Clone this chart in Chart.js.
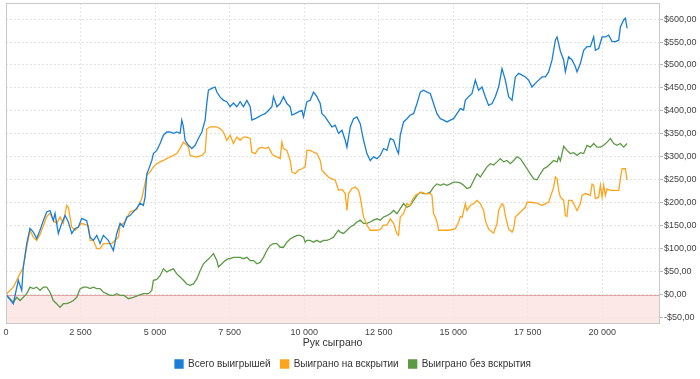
<!DOCTYPE html>
<html>
<head>
<meta charset="utf-8">
<script src="https://cdn.jsdelivr.net/npm/chart.js@4/dist/chart.umd.min.js"></script>
<style>
  html, body { margin: 0; padding: 0; background: #fff; }
</style>
</head>
<body>
<canvas id="graph" width="700" height="379"></canvas>
<script>
// --- данные --- //
const seriesNames = ['Всего выигрышей', 'Выиграно на вскрытии', 'Выиграно без вскрытия'];
const handTicks = [0, 2500, 5000, 7500, 10000, 12500, 15000, 17500, 20000];
const moneyTicks = [-50, 0, 50, 100, 150, 200, 250, 300, 350, 400, 450, 500, 550, 600];

// Всего выигрышей
const totalHands = [0,245,413,527,581,695,805,916,1030,1141,1252,1366,1477,1587,1644,1755,1869,1980,2091,2205,2316,2426,2540,2708,2819,2930,3044,3155,3265,3433,3601,3715,3826,3937,4051,4161,4272,4386,4497,4608,4665,4722,4776,4890,4943,5057,5168,5279,5393,5504,5614,5729,5839,5897,5950,6007,6118,6232,6343,6453,6568,6678,6735,6789,6903,7014,7071,7182,7293,7407,7517,7628,7742,7853,7964,8078,8189,8246,8356,8467,8581,8692,8803,8917,8970,9084,9195,9306,9420,9531,9588,9699,9809,9924,9977,10091,10202,10313,10427,10538,10595,10706,10816,10930,11041,11152,11266,11377,11434,11545,11655,11769,11880,11991,12105,12216,12326,12441,12551,12662,12776,12887,12998,13112,13165,13222,13333,13447,13558,13669,13783,13894,14004,14119,14229,14340,14454,14565,14676,14790,14901,15011,15125,15236,15347,15404,15515,15629,15740,15850,15964,16075,16186,16300,16411,16521,16635,16746,16857,16971,17082,17193,17307,17418,17528,17642,17753,17864,17978,18089,18199,18313,18424,18481,18592,18703,18759,18870,18984,19095,19152,19263,19373,19487,19598,19709,19766,19877,19991,20102,20213,20327,20438,20549,20605,20716,20773,20830];
const totalWon = [0,-20,31,9,60,111,144,136,122,140,161,180,183,161,177,133,155,172,158,133,144,147,166,161,125,118,129,111,129,118,96,133,155,147,169,172,180,188,199,194,212,263,271,292,307,314,329,347,354,354,351,354,351,380,365,336,325,318,325,340,354,380,417,445,449,452,441,430,423,420,409,417,409,420,409,423,409,380,383,387,391,394,401,409,431,409,416,431,416,409,391,394,398,401,387,420,423,441,431,416,394,387,376,365,369,351,358,336,321,365,383,387,372,336,307,292,300,296,303,318,314,340,336,314,307,347,376,383,391,394,416,441,445,441,438,416,394,383,380,376,380,383,394,405,402,423,431,438,467,445,452,431,412,416,431,452,492,467,431,423,474,482,478,474,467,452,460,467,474,474,485,511,554,561,530,511,485,518,511,496,485,503,532,540,540,561,532,536,561,561,565,551,551,554,583,598,602,580];

// Выиграно на вскрытии
const showdownHands = [0,245,413,581,695,805,916,1030,1141,1252,1366,1477,1587,1700,1812,1923,2035,2091,2205,2316,2426,2540,2763,2819,2930,3044,3155,3265,3433,3547,3770,3826,3990,4161,4386,4554,4722,4833,4943,5057,5168,5279,5393,5504,5614,5729,5839,5950,6007,6118,6175,6343,6400,6568,6678,6735,6846,7071,7182,7293,7407,7517,7628,7742,7853,7964,8078,8189,8246,8356,8467,8581,8692,8803,8917,8970,9084,9195,9252,9306,9420,9531,9588,9699,9809,9924,10034,10091,10202,10313,10427,10538,10595,10706,10816,10930,11041,11152,11266,11377,11434,11488,11601,11712,11823,11880,11937,11991,12105,12216,12326,12441,12551,12662,12776,12887,12998,13112,13165,13222,13333,13447,13558,13615,13727,13838,13950,14061,14229,14286,14340,14397,14454,14510,14621,14733,14844,15068,15181,15236,15300,15404,15460,15570,15683,15797,15909,16019,16075,16186,16300,16354,16468,16521,16635,16690,16746,16857,16971,17025,17082,17193,17307,17418,17475,17585,17810,17978,18089,18199,18367,18424,18481,18535,18592,18703,18759,18814,18870,18984,19095,19152,19263,19319,19430,19598,19655,19710,19766,19877,19934,19990,20046,20102,20160,20270,20549,20605,20662,20773,20830];
const showdownWon = [0,16,38,60,103,140,125,118,131,150,170,177,161,155,169,155,194,190,147,140,147,155,150,118,118,100,100,111,111,111,125,150,158,180,185,209,260,267,278,285,289,292,296,300,303,307,318,332,329,321,303,300,300,303,310,361,365,365,361,354,336,347,329,343,336,343,343,340,310,307,318,321,318,321,307,303,300,296,332,318,314,292,267,263,271,274,278,314,314,310,307,292,271,263,256,252,249,227,229,220,183,220,231,234,227,212,190,169,151,140,140,140,142,151,151,165,155,132,129,169,176,198,194,205,216,220,223,220,220,216,176,169,158,140,140,140,140,143,158,170,168,198,183,194,198,205,198,183,161,143,136,134,154,183,198,194,172,143,136,143,169,176,183,190,201,201,199,194,198,201,234,256,252,227,212,205,172,170,205,205,190,183,198,216,220,216,241,238,209,212,238,212,238,216,230,227,227,252,274,274,249];

// Выиграно без вскрытия
const nonShowdownHands = [0,245,359,470,581,695,805,916,1030,1141,1252,1366,1477,1587,1700,1812,1923,2035,2148,2260,2372,2483,2594,2708,2819,2930,3044,3155,3265,3379,3490,3601,3715,3826,3960,4105,4272,4441,4608,4776,4890,4943,5057,5168,5279,5393,5504,5614,5729,5839,5950,6064,6175,6287,6400,6511,6622,6735,6846,6957,7071,7125,7239,7350,7460,7517,7628,7853,7964,8078,8189,8300,8413,8524,8635,8749,8860,8970,9084,9195,9306,9420,9531,9643,9756,9867,9977,10034,10091,10202,10313,10427,10538,10652,10763,10873,10987,11098,11155,11209,11320,11434,11545,11655,11769,11880,11991,12105,12216,12326,12441,12551,12662,12776,12887,12998,13112,13222,13333,13447,13558,13669,13783,13894,14004,14117,14229,14340,14454,14565,14676,14790,14901,15011,15125,15236,15347,15460,15570,15685,15797,15909,16019,16131,16243,16355,16468,16578,16690,16801,16914,17025,17138,17250,17362,17475,17585,17698,17810,17922,18034,18145,18256,18367,18481,18535,18592,18649,18703,18814,18926,19040,19152,19263,19373,19487,19598,19709,19821,19934,20046,20159,20270,20381,20494,20605,20716,20830];
const nonShowdownWon = [0,-17,-6,-13,-6,2,16,13,16,9,16,16,5,-13,-20,-28,-20,-20,-17,-13,-6,12,16,16,13,16,13,13,5,2,-2,-2,2,-2,-2,-9,-6,-2,2,2,9,31,33,41,56,49,53,56,45,38,31,23,20,23,34,52,67,74,81,89,74,60,67,74,78,78,81,81,78,81,74,74,67,70,81,96,107,111,111,103,103,114,121,125,129,129,125,114,118,118,114,118,114,118,118,121,125,136,140,136,133,140,147,151,158,162,155,155,158,162,165,162,169,172,176,183,176,187,198,190,194,205,216,223,220,220,223,234,241,238,241,238,241,245,245,243,238,231,233,249,263,256,267,278,285,282,289,296,289,292,285,292,300,296,285,274,263,252,250,263,274,278,285,292,289,300,291,307,323,314,307,309,303,309,307,325,321,329,321,321,325,332,340,329,325,329,321,329];

const lineColors = ['#1a7fd4', '#ffa41c', '#5c9a45'];
const fontFamily = '"Liberation Sans", Arial, sans-serif';

// склеиваем массивы в точки {x, y}
function toPoints(xs, ys) {
    return xs.map((x, i) => ({ x: x, y: ys[i] }));
}

// формат подписей: "2 500" и "$600,00"
function fmtHands(v) {
    return String(v).replace(/\B(?=(\d{3})+(?!\d))/g, ' ');
}
function fmtMoney(v) {
    return (v < 0 ? '-' : '') + '$' + Math.abs(v).toFixed(2).replace('.', ',');
}

// розовая зона ниже нуля + рамка вокруг области графика
const zeroZone = {
    id: 'zeroZone',
    beforeDatasetsDraw(chart) {
        const { ctx, chartArea: a } = chart;
        const y0 = Math.round(chart.scales.y.getPixelForValue(0));
        ctx.save();
        ctx.fillStyle = 'rgba(252, 226, 226, 0.8)';
        ctx.fillRect(a.left, y0, a.right - a.left, a.bottom - y0);
        ctx.strokeStyle = '#e3a4a4';
        ctx.lineWidth = 1;
        ctx.beginPath();
        ctx.moveTo(a.left, y0 + 0.5);
        ctx.lineTo(a.right, y0 + 0.5);
        ctx.stroke();
        ctx.restore();
    },
    afterDatasetsDraw(chart) {
        const { ctx, chartArea: a } = chart;
        ctx.save();
        ctx.strokeStyle = '#c9c9c9';
        ctx.lineWidth = 1;
        ctx.strokeRect(Math.round(a.left) + 0.5, Math.round(a.top) + 0.5,
            Math.round(a.right - a.left), Math.round(a.bottom - a.top));
        ctx.restore();
    }
};

const series = [
    toPoints(totalHands, totalWon),
    toPoints(showdownHands, showdownWon),
    toPoints(nonShowdownHands, nonShowdownWon)
];

new Chart(document.getElementById('graph'), {
    type: 'line',
    data: {
        datasets: series.map((pts, i) => ({
            label: seriesNames[i],
            data: pts,
            borderColor: lineColors[i],
            backgroundColor: lineColors[i],
            borderWidth: 1.3,
            pointRadius: 0,
            tension: 0,
            fill: false
        }))
    },
    options: {
        responsive: false,
        animation: false,
        layout: { padding: { left: 6, top: 3, right: 0, bottom: 0 } },
        plugins: {
            tooltip: { enabled: false },
            legend: {
                position: 'bottom',
                labels: {
                    boxWidth: 8,
                    boxHeight: 8,
                    padding: 10,
                    color: '#333',
                    font: { size: 10, family: fontFamily }
                }
            }
        },
        scales: {
            x: {
                type: 'linear',
                min: 0,
                max: 21900,
                grid: { color: '#e3e3e3', drawTicks: false },
                border: { display: false, dash: [2, 2] },
                ticks: {
                    autoSkip: false,
                    maxRotation: 0,
                    padding: 4,
                    color: '#444',
                    font: { size: 9, family: fontFamily },
                    callback: v => fmtHands(v)
                },
                title: {
                    display: true,
                    text: 'Рук сыграно',
                    color: '#333',
                    padding: { top: 0, bottom: 0 },
                    font: { size: 10.5, family: fontFamily }
                },
                afterBuildTicks: s => { s.ticks = handTicks.map(v => ({ value: v })); },
                afterFit: s => { s.height = 26; s.paddingLeft = 0; s.paddingRight = 0; }
            },
            y: {
                position: 'right',
                min: -62,
                max: 635,
                grid: { color: '#e3e3e3', tickLength: 4, tickColor: '#bbb', tickBorderDash: [] },
                border: { display: false, dash: [2, 2] },
                ticks: {
                    autoSkip: false,
                    padding: 1,
                    color: '#444',
                    font: { size: 9, family: fontFamily },
                    callback: v => fmtMoney(v)
                },
                afterBuildTicks: s => { s.ticks = moneyTicks.map(v => ({ value: v })); },
                afterFit: s => { s.width = 41; s.paddingTop = 0; s.paddingBottom = 0; }
            }
        }
    },
    plugins: [zeroZone]
});
</script>
</body>
</html>
